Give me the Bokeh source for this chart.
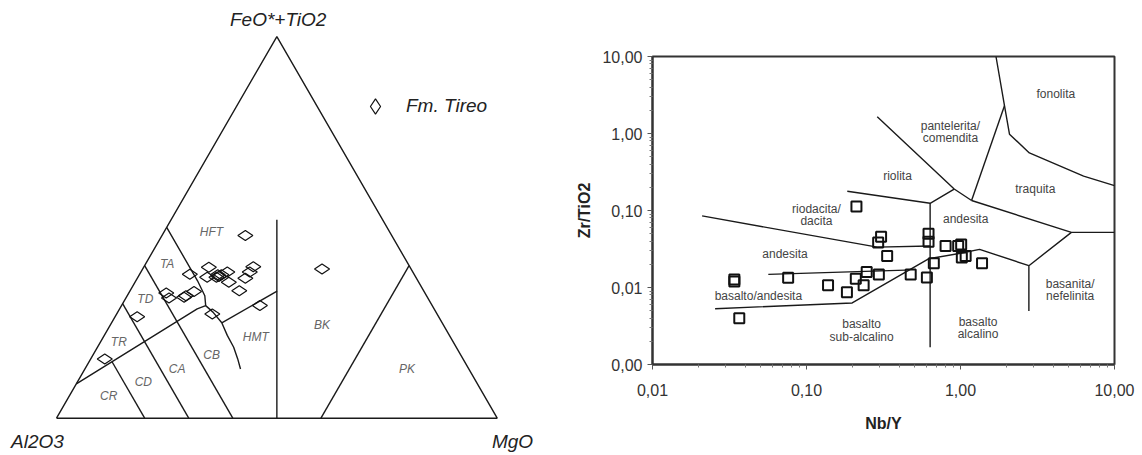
import numpy as np
from bokeh.plotting import figure
from bokeh.layouts import row
from bokeh.models import (Range1d, FixedTicker, CustomJSTickFormatter, Legend, LegendItem)
from bokeh.core.properties import value
from bokeh.embed import file_html
from bokeh.resources import INLINE

FONT = "Liberation Sans"

# ---------------- Data: Jensen cation plot (Al, Fe+Ti, Mg in %) ----------------
tireo_al = [33.2, 20.2, 50.9, 45.7, 47.3, 44.6, 42.1, 43.1, 41.2, 38.8, 37.0, 35.5,
            58.7, 58.8, 55.2, 52.2, 51.0, 39.1, 68.4, 81.3, 45.2, 43.8, 54.6, 44.6]
tireo_fe = [47.9, 39.1, 37.7, 39.6, 36.9, 37.1, 38.3, 35.6, 32.9, 36.7, 38.3, 39.7,
            32.8, 31.5, 31.7, 33.2, 27.3, 29.5, 26.6, 15.5, 36.9, 37.6, 32.1, 37.6]
tireo_mg = [18.9, 40.7, 11.4, 14.8, 15.7, 18.3, 19.6, 21.3, 24.4, 24.5, 24.7, 24.8,
            8.5, 9.8, 13.1, 14.6, 21.7, 31.4, 5.0, 3.2, 17.8, 18.6, 13.3, 17.8]

# field boundaries, each as (Al, Fe+Ti, Mg) vertex lists
jensen_lines = [
    ([100, 0, 0, 100], [0, 100, 0, 0], [0, 0, 100, 0]),                 # triangle
    ([40, 0], [0, 40], [60, 60]),                                          # PK / BK
    ([50, 24], [0, 52], [50, 24]),                                         # BK / HMT
    ([50, 33.3], [25, 33.3], [25, 33.4]),                                  # HMT / CB
    ([50, 50, 50.3, 51.4, 50.6, 50, 50.4, 50.5, 51.1, 51.8],
     [50, 36, 32.1, 29.5, 27.8, 25, 21.7, 18.6, 15.6, 12.9],
     [0, 14, 17.6, 19.1, 21.6, 25, 27.9, 30.9, 33.3, 35.3]),              # HFT / TA, CB / HMT
    ([91, 53.75, 51.4], [9, 28.65, 29.5], [0, 17.6, 19.1]),                # tholeiitic / calc-alkaline
    ([80, 80], [14.8, 0], [5.2, 20]),                                      # CR / CD
    ([70, 70], [30, 0], [0, 30]),                                          # TR-TD / CD-CA
    ([60, 60], [40, 0], [0, 40]),                                          # TD-TA / CA-CB
]

field_names = ["HFT", "TA", "TD", "TR", "CR", "CD", "CA", "CB", "HMT", "BK", "PK"]
field_al = [40.5, 54.7, 64.2, 75.9, 85.3, 75.6, 66.2, 56.5, 44.2, 27.5, 14.0]
field_fe = [48.7, 40.4, 31.3, 19.9, 5.7, 9.4, 12.9, 16.6, 21.2, 24.5, 12.9]
field_mg = [10.8, 4.9, 4.5, 4.2, 9.0, 15.0, 20.9, 26.9, 34.6, 48.0, 73.1]

vertex_names = ["FeO*+TiO2", "Al2O3", "MgO"]
legend_name = "Fm. Tireo"

# ---------------- Data: Zr/TiO2 vs Nb/Y (Winchester & Floyd) ----------------
nb_y = [0.034, 0.034, 0.0366, 0.076, 0.138, 0.183, 0.211, 0.209, 0.235, 0.246, 0.305, 0.292,
        0.295, 0.334, 0.475, 0.62, 0.62, 0.605, 0.671, 0.80, 0.966, 1.01, 1.02, 1.08, 1.38]
zr_tio2 = [0.0127, 0.0120, 0.0040, 0.0134, 0.0107, 0.0087, 0.113, 0.0130, 0.0107, 0.0159, 0.0455, 0.0385,
           0.0147, 0.0257, 0.0147, 0.050, 0.0393, 0.0135, 0.0207, 0.0345, 0.0345, 0.0363, 0.0245, 0.0257, 0.0207]

wf_lines = [
    ([0.288, 0.91, 1.18], [1.65, 0.19, 0.135]),
    ([0.184, 0.635, 0.91], [0.178, 0.124, 0.19]),
    ([0.635, 0.635], [0.124, 0.00168]),
    ([1.18, 1.93], [0.135, 2.3]),
    ([1.70, 1.93, 2.08, 2.8, 6.3, 10], [10, 2.3, 0.98, 0.56, 0.28, 0.21]),
    ([1.18, 5.25, 10], [0.135, 0.052, 0.052]),
    ([5.25, 2.78, 2.78], [0.052, 0.0192, 0.00497]),
    ([2.78, 1.33, 1.0, 0.62, 0.198, 0.0255], [0.0192, 0.0313, 0.0278, 0.0236, 0.0063, 0.0053]),
    ([0.0565, 0.44], [0.0148, 0.0168]),
    ([0.021, 0.288, 0.635], [0.085, 0.0334, 0.0346]),
]

wf_names = ["fonolita", "pantelerita/", "comendita", "riolita", "traquita", "riodacita/", "dacita",
            "andesita", "andesita", "basalto/andesita", "basalto", "sub-alcalino", "basalto",
            "alcalino", "basanita/", "nefelinita"]
wf_x = [4.16, 0.86, 0.86, 0.39, 3.06, 0.116, 0.116, 1.08, 0.0725, 0.0487, 0.228, 0.228, 1.30, 1.30, 5.15, 5.15]
wf_y = [3.29, 1.25, 0.87, 0.28, 0.193, 0.105, 0.073, 0.078, 0.027, 0.00774, 0.00336, 0.0023,
        0.0036, 0.0025, 0.0111, 0.0077]

x_ticks = [0.01, 0.1, 1, 10]
y_ticks = [0.001, 0.01, 0.1, 1, 10]


def tern(al, fe, mg):
    al, fe, mg = (np.asarray(v, dtype=float) for v in (al, fe, mg))
    tot = al + fe + mg
    f = fe / tot
    m = mg / tot
    return m + f / 2.0, f * np.sqrt(3) / 2.0


# ---------------- Left figure ----------------
p1 = figure(width=560, height=455, x_range=Range1d(-0.1271, 1.1436), y_range=Range1d(-0.0846, 0.9478),
            x_axis_location=None, y_axis_location=None, toolbar_location=None,
            output_backend="svg", min_border=0)
p1.grid.visible = False
p1.outline_line_color = None

for al, fe, mg in jensen_lines:
    xs, ys = tern(al, fe, mg)
    p1.line(xs, ys, line_color="#1a1a1a", line_width=1.4)

fx, fy = tern(field_al, field_fe, field_mg)
p1.text(fx, fy, text=field_names, text_font=value(FONT), text_font_style="italic",
        text_font_size="12px", text_color="#666666", text_align="center", text_baseline="middle")

tx, ty = tern(tireo_al, tireo_fe, tireo_mg)
sc = p1.scatter(tx, ty, marker="diamond", size=15, angle=np.pi / 2, fill_alpha=0,
                line_color="#111111", line_width=1.2)

# vertex labels
p1.text([0.503], [0.904], text=[vertex_names[0]], text_font=value(FONT), text_font_style="italic",
        text_font_size="19px", text_color="#222222", text_align="center", text_baseline="middle")
p1.text([-0.103, 0.988], [-0.053, -0.053], text=vertex_names[1:], text_font=value(FONT),
        text_font_style="italic", text_font_size="19px", text_color="#222222",
        text_align="left", text_baseline="middle")

leg = Legend(items=[LegendItem(label=legend_name, renderers=[sc])], location=(356, 330),
             glyph_width=38, glyph_height=38, label_standoff=12, padding=0, margin=0,
             border_line_alpha=0, background_fill_alpha=0,
             label_text_font=FONT, label_text_font_style="italic", label_text_font_size="19px",
             label_text_color="#222222")
p1.add_layout(leg)

# ---------------- Right figure ----------------
p2 = figure(x_axis_type="log", y_axis_type="log", x_range=Range1d(0.01, 10), y_range=Range1d(0.001, 10),
            frame_width=462, frame_height=308, min_border_left=92, min_border_right=28,
            min_border_top=56, min_border_bottom=91, toolbar_location=None, output_backend="svg")
p2.grid.visible = False
p2.outline_line_color = "#333333"
p2.outline_line_width = 2

for p in (p1, p2):
    if "frame_align" in p.properties():
        p.frame_align = False

minor_x = [k * d for d in x_ticks[:-1] for k in range(2, 10)]
minor_y = [k * d for d in y_ticks[:-1] for k in range(2, 10)]
p2.xaxis.ticker = FixedTicker(ticks=x_ticks, minor_ticks=minor_x)
p2.yaxis.ticker = FixedTicker(ticks=y_ticks, minor_ticks=minor_y)
fmt = CustomJSTickFormatter(code="return tick.toFixed(2).replace('.', ',');")
for ax in (p2.xaxis[0], p2.yaxis[0]):
    ax.formatter = fmt
    ax.axis_line_color = "#333333"
    ax.axis_line_width = 2
    ax.major_tick_in = 0
    ax.major_tick_out = 5
    ax.minor_tick_in = 0
    ax.minor_tick_out = 3
    ax.major_tick_line_color = "#555555"
    ax.minor_tick_line_color = "#777777"
    ax.major_label_text_font = FONT
    ax.major_label_text_font_size = "16px"
    ax.major_label_text_color = "#333333"
    ax.axis_label_text_font = FONT
    ax.axis_label_text_font_size = "16px"
    ax.axis_label_text_font_style = "bold"
    ax.axis_label_text_color = "#222222"
p2.xaxis.axis_label = "Nb/Y"
p2.yaxis.axis_label = "Zr/TiO2"
p2.xaxis.major_label_standoff = 14
p2.yaxis.major_label_standoff = 5
p2.xaxis.axis_label_standoff = 16
p2.yaxis.axis_label_standoff = 6

for xs, ys in wf_lines:
    p2.line(xs, ys, line_color="#1a1a1a", line_width=1.4)

p2.text(wf_x, wf_y, text=wf_names, text_font=value(FONT), text_font_size="12px",
        text_color="#444444", text_align="center", text_baseline="middle")

p2.scatter(nb_y, zr_tio2, marker="square", size=10, fill_alpha=0, line_color="#111111", line_width=2)

layout = row(p1, p2, spacing=0)
open("out.html", "w").write(file_html(layout, INLINE))
